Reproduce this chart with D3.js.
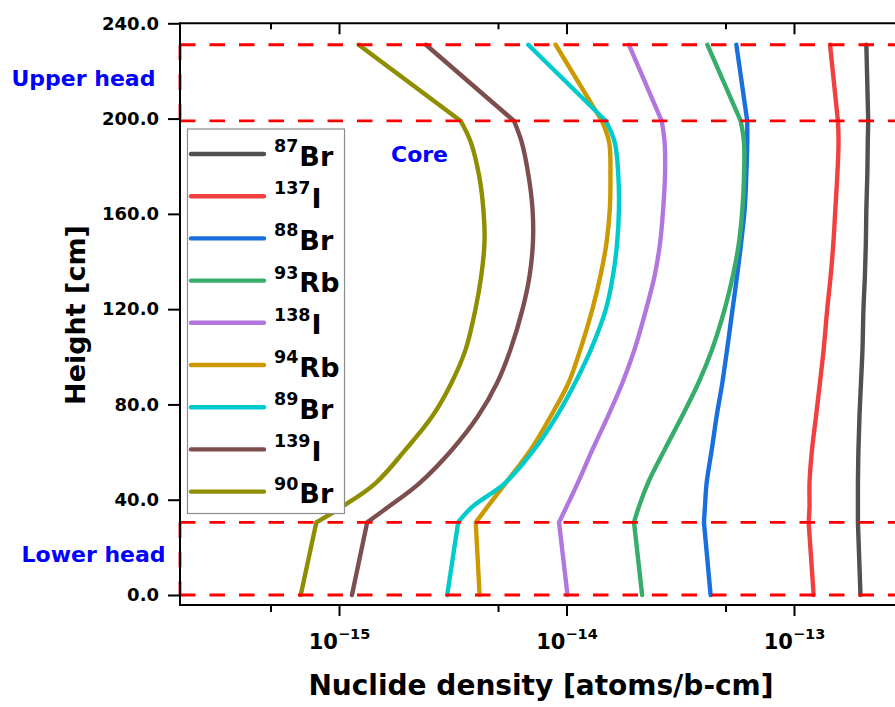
<!DOCTYPE html>
<html>
<head>
<meta charset="utf-8">
<script src="https://cdn.jsdelivr.net/npm/d3@7"></script>
<style>
  html, body { margin: 0; padding: 0; background: #fff; }
  svg { display: block; font-family: "DejaVu Sans", sans-serif; }
</style>
</head>
<body>
<svg id="chart" width="895" height="707"></svg>
<script>
// Axial height positions [cm] at which nuclide densities are tabulated
const heights = [0, 30.5, 37, 47, 61, 75, 89, 103, 120, 134, 148, 162, 176, 190, 199, 231];

// Nuclide labels (mass number + element)
const massNumbers = ["87", "137", "88", "93", "138", "94", "89", "139", "90"];
const elements    = ["Br", "I", "Br", "Rb", "I", "Rb", "Br", "I", "Br"];

// Nuclide densities [atoms/b-cm], one value per height
const br87 = [1.96e-13, 1.91e-13, 1.91e-13, 1.91e-13, 1.92e-13, 1.94e-13, 1.97e-13, 2.00e-13, 2.02e-13, 2.05e-13, 2.07e-13, 2.08e-13, 2.10e-13, 2.11e-13, 2.12e-13, 2.08e-13];
const i137 = [1.22e-13, 1.16e-13, 1.17e-13, 1.17e-13, 1.20e-13, 1.25e-13, 1.30e-13, 1.35e-13, 1.40e-13, 1.45e-13, 1.49e-13, 1.52e-13, 1.55e-13, 1.57e-13, 1.56e-13, 1.44e-13];
const br88 = [4.30e-14, 4.02e-14, 4.06e-14, 4.13e-14, 4.35e-14, 4.57e-14, 4.84e-14, 5.08e-14, 5.37e-14, 5.62e-14, 5.86e-14, 6.07e-14, 6.17e-14, 6.23e-14, 6.23e-14, 5.58e-14];
const rb93 = [2.15e-14, 1.98e-14, 2.08e-14, 2.28e-14, 2.70e-14, 3.22e-14, 3.80e-14, 4.36e-14, 4.96e-14, 5.39e-14, 5.73e-14, 5.93e-14, 6.03e-14, 6.03e-14, 5.83e-14, 4.16e-14];
const i138 = [1.01e-14, 9.27e-15, 1.00e-14, 1.12e-14, 1.30e-14, 1.52e-14, 1.76e-14, 1.99e-14, 2.24e-14, 2.44e-14, 2.58e-14, 2.66e-14, 2.71e-14, 2.70e-14, 2.62e-14, 1.88e-14];
const rb94 = [4.15e-15, 3.99e-15, 4.49e-15, 5.40e-15, 6.96e-15, 8.52e-15, 1.02e-14, 1.15e-14, 1.30e-14, 1.41e-14, 1.50e-14, 1.55e-14, 1.56e-14, 1.54e-14, 1.43e-14, 8.96e-15];
const br89 = [2.99e-15, 3.34e-15, 3.85e-15, 5.37e-15, 7.20e-15, 9.04e-15, 1.09e-14, 1.28e-14, 1.49e-14, 1.60e-14, 1.67e-14, 1.70e-14, 1.69e-14, 1.63e-14, 1.49e-14, 6.79e-15];
const i139 = [1.14e-15, 1.33e-15, 1.65e-15, 2.26e-15, 3.14e-15, 4.08e-15, 4.95e-15, 5.67e-15, 6.41e-15, 6.88e-15, 7.12e-15, 7.09e-15, 6.81e-15, 6.36e-15, 5.88e-15, 2.41e-15];
const br90 = [6.79e-16, 7.95e-16, 1.03e-15, 1.45e-15, 1.96e-15, 2.57e-15, 3.12e-15, 3.60e-15, 3.98e-15, 4.22e-15, 4.36e-15, 4.31e-15, 4.13e-15, 3.80e-15, 3.43e-15, 1.22e-15];

const seriesValues = [br87, i137, br88, rb93, i138, rb94, br89, i139, br90];
const seriesColors = ["#515151", "#F14040", "#1A6FDF", "#37AD6B", "#B177DE", "#CC9900", "#00CBCC", "#7D4E4E", "#8E8E00"];

// Region boundaries [cm]: bottom, lower head / core, core / upper head, top
const regionBounds = [0, 30.5, 199, 231];

// Axis ticks
const yTicks = [0, 40, 80, 120, 160, 200, 240];
const xMajorTicks = [1e-15, 1e-14, 1e-13];
const xMinorTicks = [5e-16, 5e-15, 5e-14];

const svg = d3.select("#chart");
const plotLeft = 180, plotRight = 953, plotTop = 23.3, plotBottom = 605;

const x = d3.scaleLog().domain([2e-16, 5e-13]).range([plotLeft, plotRight]);
const y = d3.scaleLinear().domain([-4.2, 240]).range([plotBottom, plotTop]);

// ---- profile curves: straight segments in the heads, smooth in the core ----
const linearLine = d3.line().x(d => x(d.v)).y(d => y(d.h));
const coreLine = d3.line().x(d => x(d.v)).y(d => y(d.h)).curve(d3.curveCatmullRom.alpha(0.5));

const curves = svg.append("g");
seriesValues.forEach((vals, k) => {
  const pts = heights.map((h, i) => ({ h, v: vals[i] }));
  const lower = pts.filter(p => p.h <= regionBounds[1]);
  const core = pts.filter(p => p.h >= regionBounds[1] && p.h <= regionBounds[2]);
  const upper = pts.filter(p => p.h >= regionBounds[2]);
  const ctx = d3.path();
  linearLine.context(ctx)(lower);
  coreLine.context(ctx)(core);
  linearLine.context(ctx)(upper);
  curves.append("path")
    .attr("d", ctx.toString())
    .attr("fill", "none")
    .attr("stroke", seriesColors[k])
    .attr("stroke-width", 4.4)
    .attr("stroke-linecap", "round")
    .attr("stroke-linejoin", "round");
});

// ---- dashed region boxes ----
const dash = svg.append("g")
  .attr("stroke", "#ff0000")
  .attr("stroke-width", 2.8)
  .attr("stroke-dasharray", "15.5,14")
  .attr("fill", "none");
regionBounds.forEach(h => {
  dash.append("line").attr("x1", plotLeft).attr("x2", plotRight).attr("y1", y(h)).attr("y2", y(h));
});
[[regionBounds[3], regionBounds[2]], [regionBounds[1], regionBounds[0]]].forEach(([h1, h2]) => {
  dash.append("line").attr("x1", plotLeft).attr("x2", plotLeft).attr("y1", y(h1)).attr("y2", y(h2));
});

// ---- axes ----
function styleAxis(g) {
  g.select(".domain").remove();
  g.selectAll(".tick line").attr("stroke", "#000").attr("stroke-width", 2);
}

// left
svg.append("g")
  .attr("transform", `translate(${plotLeft},0)`)
  .call(d3.axisLeft(y).tickValues(yTicks).tickFormat(d3.format(".1f")).tickSize(12).tickPadding(9))
  .call(styleAxis)
  .call(g => g.selectAll("text")
    .attr("font-family", "DejaVu Sans").attr("font-weight", "bold")
    .attr("font-size", 18).attr("fill", "#000"));

// bottom major with 10^n labels
svg.append("g")
  .attr("transform", `translate(0,${plotBottom})`)
  .call(d3.axisBottom(x).tickValues(xMajorTicks).tickSize(11).tickPadding(0).tickFormat(() => ""))
  .call(styleAxis)
  .call(g => g.selectAll(".tick").each(function (d) {
    const t = d3.select(this).select("text")
      .attr("y", 44).attr("dy", null)
      .attr("font-family", "DejaVu Sans").attr("font-weight", "bold").attr("fill", "#000")
      .attr("text-anchor", "middle");
    t.text(null);
    t.append("tspan").attr("font-size", 21).text("10");
    t.append("tspan").attr("font-size", 14.5).attr("dy", -10)
      .text("\u2212" + Math.abs(Math.round(Math.log10(d))));
  }));

// bottom minor
svg.append("g")
  .attr("transform", `translate(0,${plotBottom})`)
  .call(d3.axisBottom(x).tickValues(xMinorTicks).tickSize(7).tickFormat(() => ""))
  .call(styleAxis);

// top (inward ticks)
svg.append("g")
  .attr("transform", `translate(0,${plotTop})`)
  .call(d3.axisTop(x).tickValues(xMajorTicks).tickSize(-11).tickFormat(() => ""))
  .call(styleAxis);
svg.append("g")
  .attr("transform", `translate(0,${plotTop})`)
  .call(d3.axisTop(x).tickValues(xMinorTicks).tickSize(-6).tickFormat(() => ""))
  .call(styleAxis);

// frame lines
const frame = svg.append("g").attr("stroke", "#000").attr("stroke-width", 2);
frame.append("line").attr("x1", plotLeft).attr("x2", plotLeft).attr("y1", plotTop - 1).attr("y2", plotBottom + 1);
frame.append("line").attr("x1", plotLeft).attr("x2", plotRight).attr("y1", plotTop).attr("y2", plotTop);
frame.append("line").attr("x1", plotLeft).attr("x2", plotRight).attr("y1", plotBottom).attr("y2", plotBottom);

// axis titles
svg.append("text")
  .attr("x", 541).attr("y", 695)
  .attr("text-anchor", "middle")
  .attr("font-weight", "bold").attr("font-size", 28)
  .text("Nuclide density [atoms/b-cm]");
svg.append("text")
  .attr("transform", "translate(85,315) rotate(-90)")
  .attr("text-anchor", "middle")
  .attr("font-weight", "bold").attr("font-size", 27)
  .text("Height [cm]");

// region labels
const regionText = svg.append("g")
  .attr("fill", "#0000ff").attr("font-weight", "bold").attr("font-size", 22);
regionText.append("text").attr("x", 11.5).attr("y", 86).text("Upper head");
regionText.append("text").attr("x", 391).attr("y", 161.7).text("Core");
regionText.append("text").attr("x", 21.5).attr("y", 561.7).text("Lower head");

// ---- legend ----
const legend = svg.append("g");
legend.append("rect")
  .attr("x", 187.5).attr("y", 129).attr("width", 157).attr("height", 384.5)
  .attr("fill", "#fff").attr("stroke", "#8c8c8c").attr("stroke-width", 1.2);
massNumbers.forEach((m, i) => {
  const ly = 154 + i * 42.2;
  legend.append("line")
    .attr("x1", 191).attr("x2", 264).attr("y1", ly).attr("y2", ly)
    .attr("stroke", seriesColors[i]).attr("stroke-width", 4.4).attr("stroke-linecap", "round");
  const t = legend.append("text")
    .attr("x", 274).attr("y", ly + 11.5)
    .attr("font-weight", "bold").attr("fill", "#000");
  t.append("tspan").attr("font-size", 17.5).attr("dy", -13.5).text(m);
  t.append("tspan").attr("font-size", 27).attr("dy", 13.5).attr("dx", 1).text(elements[i]);
});
</script>
</body>
</html>
